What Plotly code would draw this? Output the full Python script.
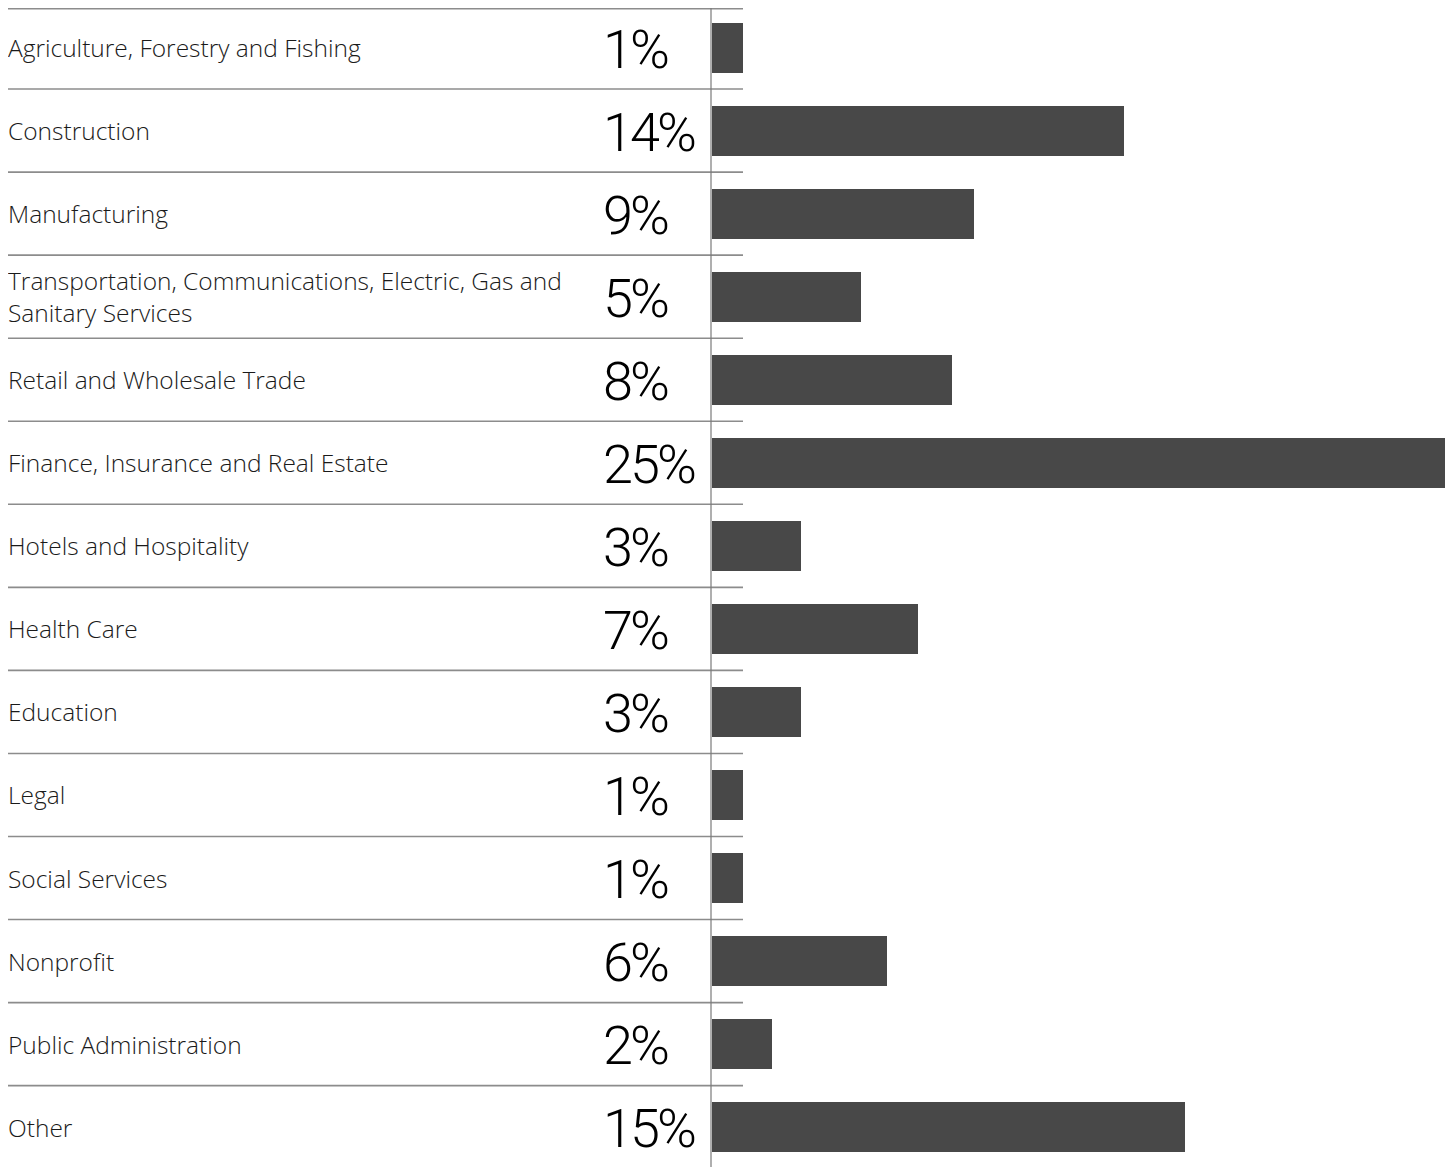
import plotly.graph_objects as go

categories = [
    "Agriculture, Forestry and Fishing",
    "Construction",
    "Manufacturing",
    "Transportation, Communications, Electric, Gas and<br>Sanitary Services",
    "Retail and Wholesale Trade",
    "Finance, Insurance and Real Estate",
    "Hotels and Hospitality",
    "Health Care",
    "Education",
    "Legal",
    "Social Services",
    "Nonprofit",
    "Public Administration",
    "Other",
]
pct_labels = ["1%", "14%", "9%", "5%", "8%", "25%", "3%", "7%", "3%", "1%", "1%", "6%", "2%", "15%"]
bar_values = [1.05, 14.0, 8.9, 5.07, 8.16, 25.0, 3.03, 7.0, 3.03, 1.05, 1.05, 5.95, 2.04, 16.1]

W, H = 1453, 1167
OFF = 8.0  # page body margin
row_h = 83.05
top = 6.0 - OFF
px_per_unit = 29.4
x0_px = 712.0 - OFF

n = len(categories)
ypos = list(range(n))

fig = go.Figure()
fig.add_trace(go.Bar(
    x=bar_values, y=ypos, orientation="h",
    marker=dict(color="#484848", line=dict(width=0)),
    width=50 / row_h, hoverinfo="skip",
))

y_top = -(top + row_h / 2) / row_h
y_bot = (H - top - row_h / 2) / row_h

line_col = "#8c8c8c"
shapes = []
shapes.append(dict(type="line", xref="paper", yref="paper",
                   x0=(7 - OFF) / W, x1=(743 - OFF) / W, y0=1 - 0.8 / H, y1=1 - 0.8 / H,
                   line=dict(color=line_col, width=1.6), layer="below"))
for i in range(1, n):
    shapes.append(dict(type="line", xref="paper", yref="y",
                       x0=(7 - OFF) / W, x1=(743 - OFF) / W, y0=i - 0.5, y1=i - 0.5,
                       line=dict(color=line_col, width=1.6), layer="below"))
shapes.append(dict(type="line", xref="paper", yref="paper",
                   x0=(711 - OFF) / W, x1=(711 - OFF) / W, y0=0, y1=1,
                   line=dict(color="#7a7a7a", width=1.2), layer="above"))

annotations = []
for i, (c, p) in enumerate(zip(categories, pct_labels)):
    annotations.append(dict(xref="paper", yref="y", x=(6 - OFF) / W, y=i, text=c,
                            showarrow=False, xanchor="left", yanchor="middle", align="left",
                            font=dict(family="Open Sans", size=24.5, color="#1a1a1a", weight=300)))
    annotations.append(dict(xref="paper", yref="y", x=(601 - OFF) / W, y=i + 0.02,
                            text='<span style="letter-spacing:-3px">' + p + "</span>",
                            showarrow=False, xanchor="left", yanchor="middle",
                            font=dict(family="Roboto", size=54, color="#000000", weight=300)))

fig.update_layout(
    width=W, height=H,
    margin=dict(l=0, r=0, t=0, b=0),
    plot_bgcolor="white", paper_bgcolor="white",
    showlegend=False,
    bargap=0,
    xaxis=dict(domain=[x0_px / W, 1], range=[0, (W - x0_px) / px_per_unit],
               visible=False, fixedrange=True),
    yaxis=dict(range=[y_bot, y_top], visible=False, fixedrange=True),
    shapes=shapes,
    annotations=annotations,
)

fig.write_html("out.html")
